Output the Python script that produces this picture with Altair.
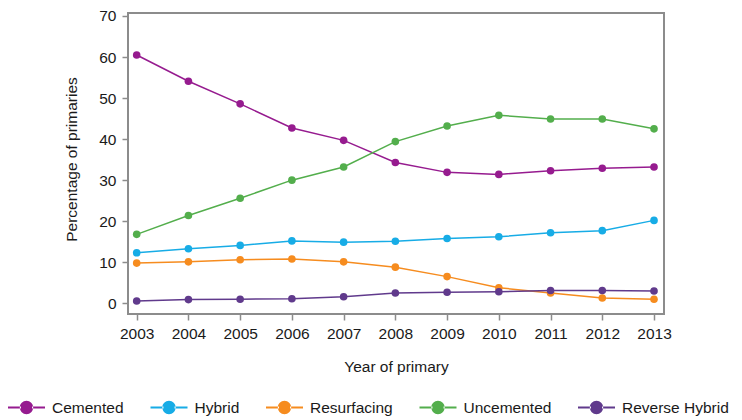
import altair as alt
import pandas as pd

years = list(range(2003, 2014))
series = ["Cemented", "Hybrid", "Resurfacing", "Uncemented", "Reverse Hybrid"]
colors = ["#961b8f", "#17ace6", "#f68c1f", "#53ae4c", "#603a8c"]

cemented = [60.5, 54.1, 48.6, 42.7, 39.7, 34.3, 31.9, 31.4, 32.3, 32.9, 33.2]
hybrid = [12.3, 13.3, 14.1, 15.2, 14.9, 15.1, 15.8, 16.2, 17.2, 17.7, 20.2]
resurfacing = [9.8, 10.1, 10.6, 10.8, 10.1, 8.8, 6.5, 3.8, 2.5, 1.3, 1.0]
uncemented = [16.8, 21.4, 25.6, 30.0, 33.2, 39.4, 43.2, 45.8, 44.9, 44.9, 42.5]
reverse_hybrid = [0.55, 0.9, 1.0, 1.1, 1.6, 2.5, 2.7, 2.8, 3.1, 3.1, 3.0]

y_ticks = [0, 10, 20, 30, 40, 50, 60, 70]

values = [cemented, hybrid, resurfacing, uncemented, reverse_hybrid]
rows = []
for name, vals in zip(series, values):
    for yr, v in zip(years, vals):
        rows.append({"year": yr, "pct": v, "series": name})
df = pd.DataFrame(rows)

FONT = "Liberation Sans"
symbol_path = ("M-1,-0.06H-0.3V0.06H-1Z M0.3,-0.06H1V0.06H0.3Z "
               "M-0.36,0A0.36,0.36 0 1,0 0.36,0A0.36,0.36 0 1,0 -0.36,0Z")

legend = alt.Legend(
    orient="none",
    legendX=-120,
    legendY=376,
    direction="horizontal",
    title=None,
    symbolType=symbol_path,
    symbolSize=1369,
    symbolStrokeWidth=0,
    symbolOpacity=1,
    labelFont=FONT,
    labelFontSize=15.5,
    labelColor="#1a1a1a",
    labelOffset=7,
    columnPadding=26.5,
    padding=0,
)

x_enc = alt.X(
    "year:Q",
    scale=alt.Scale(domain=[2002.832, 2013.193], nice=False, zero=False),
    axis=alt.Axis(values=years, format="d", title="Year of primary",
                  titleY=52, titleBaseline="middle"),
)
y_enc = alt.Y(
    "pct:Q",
    scale=alt.Scale(domain=[-2.61, 70.73], nice=False, zero=False),
    axis=alt.Axis(values=y_ticks, title="Percentage of primaries",
                  titleX=-57, titleY=146, titleBaseline="middle"),
)
color_enc = alt.Color("series:N", scale=alt.Scale(domain=series, range=colors),
                      legend=legend)

base = alt.Chart(df).encode(x=x_enc, y=y_enc, color=color_enc)

lines = base.mark_line(strokeWidth=1.5)
points = base.mark_circle(size=58, opacity=1)

chart = (
    alt.layer(lines, points)
    .properties(
        width=536,
        height=301,
        autosize=alt.AutoSizeParams(type="none"),
        padding={"left": 120, "top": 5, "right": 70, "bottom": 102},
    )
    .configure_view(stroke="#8c8c8c", strokeWidth=2)
    .configure_axis(
        domain=False,
        grid=False,
        tickColor="#8c8c8c",
        tickSize=6,
        tickWidth=1.5,
        labelFont=FONT,
        labelFontSize=15.5,
        labelColor="#1a1a1a",
        labelPadding=6,
        titleFont=FONT,
        titleFontSize=15.5,
        titleFontWeight="normal",
        titleColor="#1a1a1a",
    )
)

chart.save("out.html", embed_options={"renderer": "svg", "actions": False})
